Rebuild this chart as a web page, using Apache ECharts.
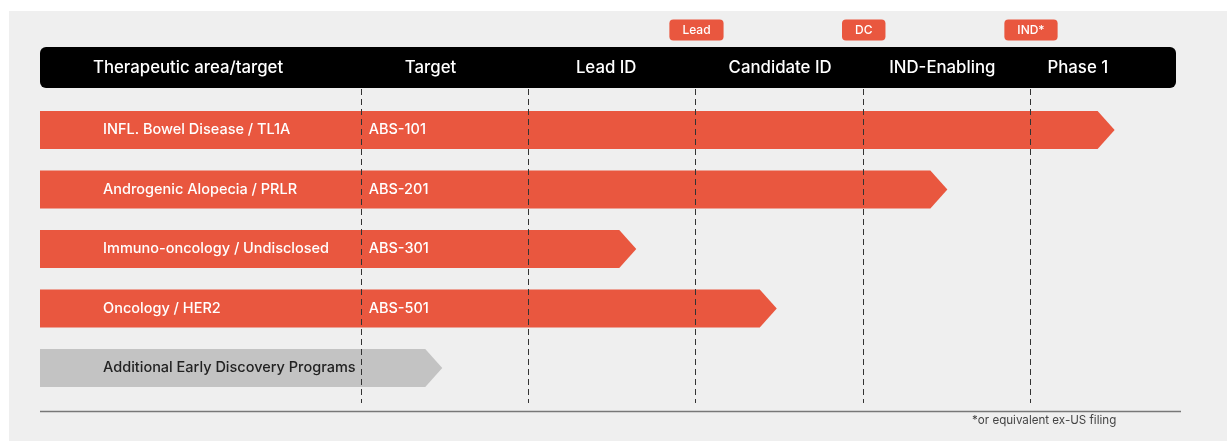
<!DOCTYPE html>
<html>
  <head>
    <meta charset="utf-8">
    <style>
      html, body { margin: 0; padding: 0; background: #fff; }
      #pipeline { width: 1227px; height: 441px; }
    </style>
  </head>
  <body>
    <div id="pipeline"></div>
  </body>
  <script src="https://cdn.jsdelivr.net/npm/echarts@6/dist/echarts.min.js"></script>
  <script>

// header columns (x in stage units, dashed lines sit on whole numbers)
var stages = ['Therapeutic area/target', 'Target', 'Lead ID', 'Candidate ID', 'IND-Enabling', 'Phase 1'];
var stagePos = [-0.04, 1.41, 2.46, 3.5, 4.47, 5.28];
var boundaries = [1, 2, 3, 4, 5];

// milestones above the header
var milestones = ['Lead', 'DC', 'IND*'];
var milestonePos = [3, 4, 5];

// programs
var areas = ['INFL. Bowel Disease / TL1A', 'Androgenic Alopecia / PRLR', 'Immuno-oncology / Undisclosed', 'Oncology / HER2', 'Additional Early Discovery Programs'];
var targets = ['ABS-101', 'ABS-201', 'ABS-301', 'ABS-501', ''];
var progress = [5.5, 4.5, 2.64, 3.48, 1.48];
var early = [false, false, false, false, true];

var XMIN = -0.925, XMAX = 5.867;
var ORANGE = '#e9573f';
var GREY = '#c3c3c3';
var FONT = 'Inter, "Noto Sans", sans-serif';

var chart = echarts.init(document.getElementById('pipeline'));

function renderBar(params, api) {
  var i = params.dataIndex;
  var row = api.value(0);
  var start = api.coord([XMIN, row]);
  var tip = api.coord([api.value(1), row]);
  var h = 38, notch = 17;
  var y0 = start[1] - h / 2, y1 = start[1] + h / 2;
  var children = [{
    type: 'polygon',
    shape: { points: [[start[0], y0], [tip[0] - notch, y0], [tip[0], start[1]], [tip[0] - notch, y1], [start[0], y1]] },
    style: { fill: early[i] ? GREY : ORANGE }
  }];
  var areaAt = api.coord([-0.548, row]);
  children.push({
    type: 'text',
    style: {
      x: areaAt[0], y: areaAt[1], text: areas[i], fill: early[i] ? '#222' : '#fff',
      font: '500 14.5px ' + FONT, align: 'left', verticalAlign: 'middle'
    }
  });
  if (targets[i]) {
    var tAt = api.coord([1.04, row]);
    children.push({
      type: 'text',
      style: {
        x: tAt[0], y: tAt[1], text: targets[i], fill: '#fff',
        font: '500 14.5px ' + FONT, align: 'left', verticalAlign: 'middle'
      }
    });
  }
  return { type: 'group', children: children };
}

function renderHeader(params, api) {
  var p = api.coord([api.value(0), -0.05]);
  return {
    type: 'text',
    style: {
      x: p[0], y: p[1], text: stages[params.dataIndex], fill: '#fff',
      font: '500 16.8px ' + FONT, align: 'center', verticalAlign: 'middle'
    }
  };
}

function renderBadge(params, api) {
  var p = api.coord([api.value(0), -0.68]);
  return {
    type: 'text',
    style: {
      x: p[0], y: p[1], text: milestones[params.dataIndex], fill: '#fff',
      font: '500 12px ' + FONT, align: 'center', verticalAlign: 'middle',
      backgroundColor: ORANGE, padding: [5, 13, 4, 13], borderRadius: 4
    }
  };
}

function renderDash(params, api) {
  var a = api.coord([api.value(0), 0.311]);
  var b = api.coord([api.value(0), 5.588]);
  return {
    type: 'line',
    shape: { x1: Math.round(a[0]) - 0.5, y1: a[1], x2: Math.round(b[0]) - 0.5, y2: b[1] },
    style: { stroke: '#333', lineWidth: 1, lineDash: [6, 4] }
  };
}

var option = {
  animation: false,
  backgroundColor: '#fff',
  grid: { left: 40, right: 51, top: 11, bottom: 13.5 },
  xAxis: { type: 'value', min: XMIN, max: XMAX, show: false },
  yAxis: { type: 'value', min: -1, max: 6, inverse: true, show: false },
  graphic: [
    { type: 'rect', z: -10, shape: { x: 9, y: 11, width: 1218, height: 430 }, style: { fill: '#efefef' } },
    { type: 'rect', z: -5, shape: { x: 40, y: 47, width: 1136, height: 41, r: 6 }, style: { fill: '#000' } },
    { type: 'line', shape: { x1: 40, y1: 411.5, x2: 1181, y2: 411.5 }, style: { stroke: '#777', lineWidth: 1.5 } },
    { type: 'text', style: { x: 972, y: 421, text: '*or equivalent ex-US filing', fill: '#444', font: '11.6px ' + FONT, verticalAlign: 'middle' } }
  ],
  series: [
    {
      type: 'custom',
      renderItem: renderBar,
      clip: false,
      z: 2,
      data: progress.map(function (v, i) { return [i + 1, v]; })
    },
    {
      type: 'custom',
      renderItem: renderDash,
      clip: false,
      z: 3,
      data: boundaries.map(function (b) { return [b]; })
    },
    {
      type: 'custom',
      renderItem: renderHeader,
      clip: false,
      z: 4,
      data: stagePos.map(function (p) { return [p]; })
    },
    {
      type: 'custom',
      renderItem: renderBadge,
      clip: false,
      z: 4,
      data: milestonePos.map(function (p) { return [p]; })
    }
  ]
};

chart.setOption(option);
  </script>
</html>
